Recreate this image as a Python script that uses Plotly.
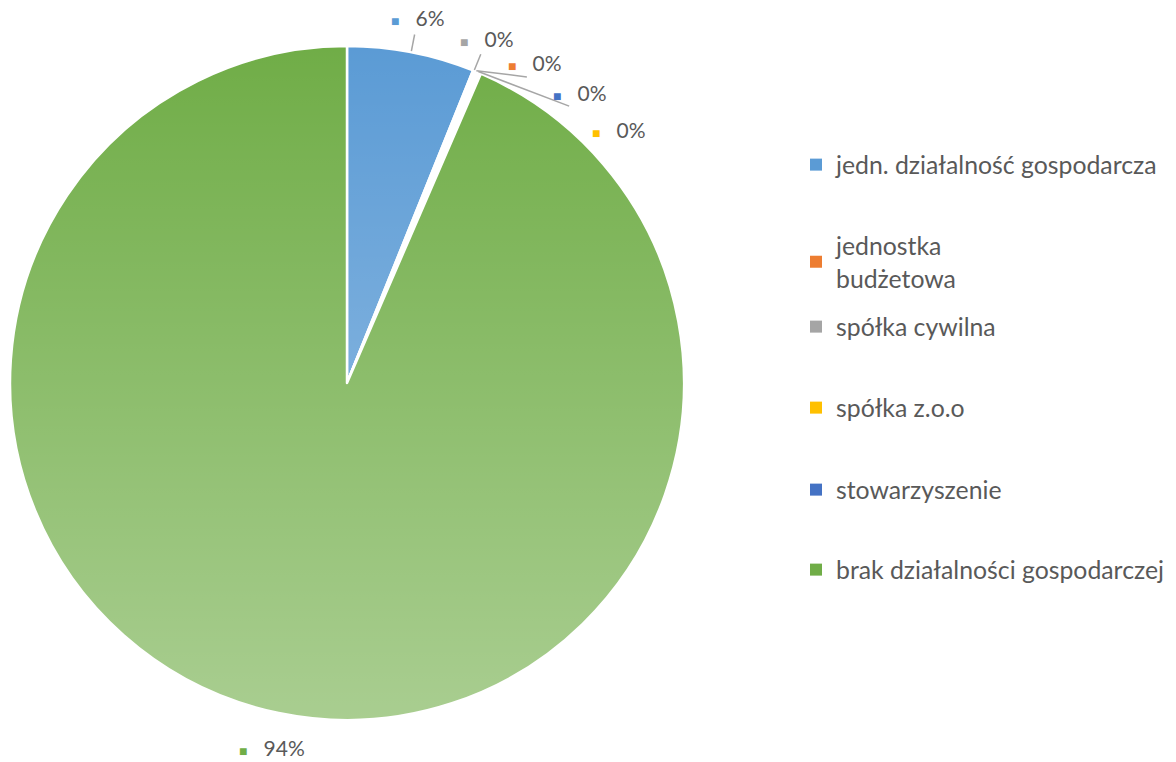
import base64
import math
import plotly.graph_objects as go

# ---- data (clockwise slice order as drawn) ----
categories = [
    "jedn. działalność gospodarcza",
    "spółka cywilna",
    "jednostka budżetowa",
    "stowarzyszenie",
    "spółka z.o.o",
    "brak działalności gospodarczej",
]
values = [6.1, 0.1, 0.1, 0.1, 0.1, 93.5]
colors = ["#5B9BD5", "#A5A5A5", "#ED7D31", "#4472C4", "#FFC000", "#70AD47"]

# legend order and text
legend_labels = [
    "jedn. działalność gospodarcza",
    "jednostka<br>budżetowa",
    "spółka cywilna",
    "spółka z.o.o",
    "stowarzyszenie",
    "brak działalności gospodarczej",
]
legend_colors = ["#5B9BD5", "#ED7D31", "#A5A5A5", "#FFC000", "#4472C4", "#70AD47"]

# styling
leader = [True, True, True, True, False, False]
W, H = 1176, 762
FONT = "Lato, 'Open Sans', sans-serif"
TXT = "#595959"

# pie geometry (pixels)
cx, cy, r = 347, 383, 337
R_LAB = 372
SEP = 8.3


def px(x):
    return x / W


def py(y):
    return 1 - y / H


fig = go.Figure()
fig.add_trace(go.Pie(
    labels=categories,
    values=values,
    sort=False,
    direction="clockwise",
    rotation=0,
    marker=dict(colors=colors, line=dict(color="white", width=2.5)),
    textinfo="none",
    showlegend=False,
    hoverinfo="label+percent",
    domain=dict(x=[px(cx - r), px(cx + r)], y=[py(cy + r), py(cy - r)]),
    automargin=False,
))

# data labels placed around the pie from the slice angles
total = sum(values)
cum = 0.0
prev = -1e9
annotations = []
shapes = []
for v, c, ld in zip(values, colors, leader):
    mid = (cum + v / 2) / total * 360.0
    cum += v
    ang = max(mid, prev + SEP)
    prev = ang
    a = math.radians(ang)
    lx, ly = cx + R_LAB * math.sin(a), cy - R_LAB * math.cos(a)
    pct = round(v / total * 100)
    annotations.append(dict(
        x=px(lx), y=py(ly), xref="paper", yref="paper",
        xanchor="center", yanchor="middle", showarrow=False,
        text=f"<span style='font-size:14px;color:{c}'>■</span>&nbsp;&nbsp;&nbsp;{pct}%",
        font=dict(family=FONT, size=21, color=TXT),
    ))
    if ld:
        m = math.radians(mid)
        x0, y0 = cx + (r + 1) * math.sin(m), cy - (r + 1) * math.cos(m)
        x1, y1 = cx + (R_LAB - 17) * math.sin(a), cy - (R_LAB - 17) * math.cos(a)
        shapes.append(dict(
            type="line", xref="paper", yref="paper",
            x0=px(x0), y0=py(y0), x1=px(x1), y1=py(y1),
            line=dict(color="#A6A6A6", width=1.5),
        ))

# legend entries (one legend box per item to mimic the evenly spaced Excel legend)
slot_centers = [165, 262, 327, 408, 490, 570]
for i, (lab, c) in enumerate(zip(legend_labels, legend_colors)):
    lname = "legend" if i == 0 else f"legend{i+1}"
    fig.add_trace(go.Scatter(
        x=[None], y=[None], mode="markers",
        marker=dict(symbol="square", size=8, color=c),
        name=lab, legend=lname, showlegend=True, hoverinfo="skip",
    ))
    fig.layout[lname] = dict(
        x=px(796), xanchor="left",
        y=py(slot_centers[i]), yanchor="middle",
        font=dict(family=FONT, size=24.8, color=TXT),
        bgcolor="rgba(0,0,0,0)",
        itemsizing="constant",
    )

# gradient lightening overlay on the pie (Office style gradient fill)
svg = (
    "<svg xmlns='http://www.w3.org/2000/svg' width='200' height='200' viewBox='0 0 200 200'>"
    "<defs><linearGradient id='g' x1='0' y1='0' x2='0' y2='1'>"
    "<stop offset='0' stop-color='white' stop-opacity='0'/>"
    "<stop offset='1' stop-color='white' stop-opacity='0.4'/>"
    "</linearGradient></defs>"
    "<circle cx='100' cy='100' r='100' fill='url(#g)'/></svg>"
)
src = "data:image/svg+xml;base64," + base64.b64encode(svg.encode()).decode()
fig.add_layout_image(dict(
    source=src, xref="paper", yref="paper",
    x=px(cx), y=py(cy), sizex=2 * r / W, sizey=2 * r / H,
    xanchor="center", yanchor="middle", sizing="stretch", layer="above",
))

fig.update_layout(
    width=W, height=H,
    margin=dict(l=0, r=0, t=0, b=0),
    paper_bgcolor="white", plot_bgcolor="white",
    xaxis=dict(visible=False), yaxis=dict(visible=False),
    font=dict(family=FONT, color=TXT),
    annotations=annotations,
    shapes=shapes,
)

fig.write_html(
    "out.html",
    config={"displayModeBar": False},
    post_script="document.body.style.margin='0';document.body.style.overflow='hidden';",
)
